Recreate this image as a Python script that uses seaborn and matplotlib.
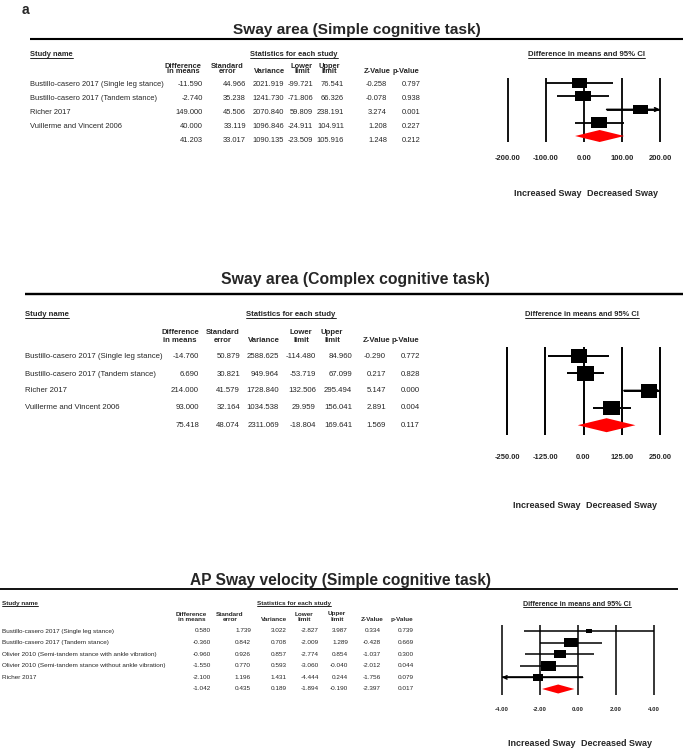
import numpy as np
import pandas as pd
import matplotlib
matplotlib.use("Agg")
import matplotlib.pyplot as plt
import seaborn as sns
from matplotlib.path import Path
from matplotlib.lines import Line2D

# ---------------- data ----------------
panel_letter = "a"
col_heads_1 = ["Difference", "Standard", "", "Lower", "Upper", "", ""]
col_heads_2 = ["in means", "error", "Variance", "limit", "limit", "Z-Value", "p-Value"]

p1_title = "Sway area (Simple cognitive task)"
p1_studies = ["Bustillo-casero 2017 (Single leg stance)", "Bustillo-casero 2017 (Tandem stance)",
              "Richer 2017", "Vuillerme and Vincent 2006", ""]
p1_diff = [-11.590, -2.740, 149.000, 40.000, 41.203]
p1_se = [44.966, 35.238, 45.506, 33.119, 33.017]
p1_var = [2021.919, 1241.730, 2070.840, 1096.846, 1090.135]
p1_lower = [-99.721, -71.806, 59.809, -24.911, -23.509]
p1_upper = [76.541, 66.326, 238.191, 104.911, 105.916]
p1_z = [-0.258, -0.078, 3.274, 1.208, 1.248]
p1_p = [0.797, 0.938, 0.001, 0.227, 0.212]
p1_ticks = [-200, -100, 0, 100, 200]

p2_title = "Sway area (Complex cognitive task)"
p2_studies = ["Bustillo-casero 2017 (Single leg stance)", "Bustillo-casero 2017 (Tandem stance)",
              "Richer 2017", "Vuillerme and Vincent 2006", ""]
p2_diff = [-14.760, 6.690, 214.000, 93.000, 75.418]
p2_se = [50.879, 30.821, 41.579, 32.164, 48.074]
p2_var = [2588.625, 949.964, 1728.840, 1034.538, 2311.069]
p2_lower = [-114.480, -53.719, 132.506, 29.959, -18.804]
p2_upper = [84.960, 67.099, 295.494, 156.041, 169.641]
p2_z = [-0.290, 0.217, 5.147, 2.891, 1.569]
p2_p = [0.772, 0.828, 0.000, 0.004, 0.117]
p2_ticks = [-250, -125, 0, 125, 250]

p3_title = "AP Sway velocity (Simple cognitive task)"
p3_studies = ["Bustillo-casero 2017 (Single leg stance)", "Bustillo-casero 2017 (Tandem stance)",
              "Olivier 2010 (Semi-tandem stance with ankle vibration)",
              "Olivier 2010 (Semi-tandem stance without ankle vibration)", "Richer 2017", ""]
p3_diff = [0.580, -0.360, -0.960, -1.550, -2.100, -1.042]
p3_se = [1.739, 0.842, 0.926, 0.770, 1.196, 0.435]
p3_var = [3.022, 0.708, 0.857, 0.593, 1.431, 0.189]
p3_lower = [-2.827, -2.009, -2.774, -3.060, -4.444, -1.894]
p3_upper = [3.987, 1.289, 0.854, -0.040, 0.244, -0.190]
p3_z = [0.334, -0.428, -1.037, -2.012, -1.756, -2.397]
p3_p = [0.739, 0.669, 0.300, 0.044, 0.079, 0.017]
p3_ticks = [-4, -2, 0, 2, 4]

# ---------------- layout (pixels) ----------------
W, H = 685, 748
layouts = [
    dict(title_x=357, title_y=30, title_fs=11.1, rule_y=39, rule_x0=30, rule_x1=683, rule_lw=1.5,
         hdr_y=54.5, study_x=30, stats_cx=294, ci_cx=586, ci_fs=5.6,
         ch_y1=66, ch_y2=71.5, ch_cx=[183, 227.5, 269.5, 302, 329.5, 377, 406],
         row0=84, rstep=14.2, val_rx=[203, 246, 284, 313, 344, 387, 421], fs=5.4,
         fx0=508, fx1=660, ftop=78, fbot=142, frow0=83, fstep=13.25,
         tick_y=159, tick_fs=5.5, lab_y=194, lab_fs=6.5, grid_lw=1.3, ci_lw=1.3,
         mk_w=16, mk_asp=1.5, dia_h=6),
    dict(title_x=355, title_y=280, title_fs=11.3, rule_y=294, rule_x0=25, rule_x1=683, rule_lw=1.7,
         hdr_y=315, study_x=25, stats_cx=291, ci_cx=582, ci_fs=5.4,
         ch_y1=332, ch_y2=340, ch_cx=[180, 223, 264, 301, 332, 377, 405],
         row0=357, rstep=17, val_rx=[199, 240, 279, 316, 352, 386, 420], fs=5.6,
         fx0=507, fx1=660, ftop=347, fbot=435, frow0=356, fstep=17.3,
         tick_y=458, tick_fs=5.4, lab_y=505, lab_fs=6.5, grid_lw=1.4, ci_lw=1.4,
         mk_w=17, mk_asp=1.15, dia_h=7),
    dict(title_x=340, title_y=581, title_fs=11.2, rule_y=589, rule_x0=0, rule_x1=678, rule_lw=1.3,
         hdr_y=604, study_x=2, stats_cx=294, ci_cx=577, ci_fs=5.1,
         ch_y1=614, ch_y2=619.5, ch_cx=[191.5, 230, 274, 304, 337, 372, 402],
         row0=631, rstep=11.6, val_rx=[211, 251, 287, 319, 348, 381, 414], fs=4.6,
         fx0=502, fx1=654, ftop=625, fbot=695, frow0=631, fstep=11.6,
         tick_y=710, tick_fs=4.4, lab_y=743, lab_fs=6.5, grid_lw=1.1, ci_lw=1.1,
         mk_w=15, mk_asp=1.5, dia_h=4.5),
]

panels = [
    dict(title=p1_title, studies=p1_studies, diff=p1_diff, se=p1_se, var=p1_var, lower=p1_lower,
         upper=p1_upper, z=p1_z, p=p1_p, ticks=p1_ticks),
    dict(title=p2_title, studies=p2_studies, diff=p2_diff, se=p2_se, var=p2_var, lower=p2_lower,
         upper=p2_upper, z=p2_z, p=p2_p, ticks=p2_ticks),
    dict(title=p3_title, studies=p3_studies, diff=p3_diff, se=p3_se, var=p3_var, lower=p3_lower,
         upper=p3_upper, z=p3_z, p=p3_p, ticks=p3_ticks),
]

sns.set_style("white")
plt.rcParams["font.family"] = ["Liberation Sans", "DejaVu Sans"]

fig = plt.figure(figsize=(W / 100, H / 100), dpi=100)
fig.patch.set_facecolor("white")


def T(x, y, s, **kw):
    kw.setdefault("va", "center")
    return fig.text(x / W, 1 - y / H, s, **kw)


def hline_fig(x0, x1, y, lw):
    fig.add_artist(Line2D([x0 / W, x1 / W], [1 - y / H] * 2, transform=fig.transFigure,
                          color="black", lw=lw, solid_capstyle="butt"))


underlined = []

T(22, 10, panel_letter, fontsize=10, fontweight="bold", ha="left")

for d, L in zip(panels, layouts):
    # title + rule
    T(L["title_x"], L["title_y"], d["title"], fontsize=L["title_fs"], fontweight="bold", ha="center")
    hline_fig(L["rule_x0"], L["rule_x1"], L["rule_y"], L["rule_lw"] * 0.72 * 1.4)

    # headers
    underlined.append(T(L["study_x"], L["hdr_y"], "Study name", fontsize=L["fs"], fontweight="bold", ha="left"))
    underlined.append(T(L["stats_cx"], L["hdr_y"], "Statistics for each study", fontsize=L["fs"],
                        fontweight="bold", ha="center"))
    underlined.append(T(L["ci_cx"], L["hdr_y"], "Difference in means and 95% CI", fontsize=L["ci_fs"],
                        fontweight="bold", ha="center"))
    for h1, h2, cx in zip(col_heads_1, col_heads_2, L["ch_cx"]):
        if h1:
            T(cx, L["ch_y1"], h1, fontsize=L["fs"], fontweight="bold", ha="center")
        T(cx, L["ch_y2"], h2, fontsize=L["fs"], fontweight="bold", ha="center")

    # table rows
    cols = [d["diff"], d["se"], d["var"], d["lower"], d["upper"], d["z"], d["p"]]
    for i, name in enumerate(d["studies"]):
        y = L["row0"] + i * L["rstep"]
        if name:
            T(L["study_x"], y, name, fontsize=L["fs"], ha="left")
        for col, rx in zip(cols, L["val_rx"]):
            T(rx, y, f"{col[i]:.3f}", fontsize=L["fs"], ha="right")

    # forest plot axes
    n = len(d["studies"])
    ytop = (L["ftop"] - L["frow0"]) / L["fstep"]
    ybot = (L["fbot"] - L["frow0"]) / L["fstep"]
    ax = fig.add_axes([L["fx0"] / W, 1 - L["fbot"] / H, (L["fx1"] - L["fx0"]) / W,
                       (L["fbot"] - L["ftop"]) / H])
    ticks = d["ticks"]
    ax.set_xlim(ticks[0], ticks[-1])
    ax.set_ylim(ybot, ytop)
    for s in ax.spines.values():
        s.set_visible(False)
    ax.set_yticks([])
    ax.set_xticks(ticks)
    ax.set_xticklabels([f"{t:.2f}" for t in ticks], fontsize=L["tick_fs"], fontweight="bold")
    pad = (L["tick_y"] - L["fbot"]) * 0.72 - 0.5 * L["tick_fs"]
    ax.tick_params(axis="x", length=0, pad=pad)
    ax.vlines(ticks, ybot, ytop, color="black", lw=L["grid_lw"], clip_on=False, zorder=1)

    rows = np.arange(n)
    lo = np.array(d["lower"][:-1])
    up = np.array(d["upper"][:-1])
    lo_c = np.clip(lo, ticks[0], ticks[-1])
    up_c = np.clip(up, ticks[0], ticks[-1])
    ax.hlines(rows[:-1], lo_c, up_c, color="black", lw=L["ci_lw"], zorder=2, clip_on=False)
    for r, a, b, ac, bc in zip(rows[:-1], lo, up, lo_c, up_c):
        if b > ticks[-1]:
            ax.annotate("", xy=(bc, r), xytext=(ac, r),
                        arrowprops=dict(arrowstyle="->", color="black", lw=L["ci_lw"],
                                        shrinkA=0, shrinkB=0, mutation_scale=6), annotation_clip=False)
        if a < ticks[0]:
            ax.annotate("", xy=(ac, r), xytext=(bc, r),
                        arrowprops=dict(arrowstyle="->", color="black", lw=L["ci_lw"],
                                        shrinkA=0, shrinkB=0, mutation_scale=6), annotation_clip=False)

    # weights (random effects, DerSimonian-Laird) -> marker size
    y_i = np.array(d["diff"][:-1])
    v_i = np.array(d["var"][:-1])
    w = 1 / v_i
    ybar = np.sum(w * y_i) / np.sum(w)
    Q = np.sum(w * (y_i - ybar) ** 2)
    C = np.sum(w) - np.sum(w ** 2) / np.sum(w)
    tau2 = max(0.0, (Q - (len(y_i) - 1)) / C)
    wr = 1 / (v_i + tau2)
    widths_px = L["mk_w"] * np.sqrt(wr / wr.max())
    sizes = (widths_px * 0.72) ** 2
    a = L["mk_asp"]
    rect = Path([(-a, -1), (a, -1), (a, 1), (-a, 1), (-a, -1)],
                [Path.MOVETO, Path.LINETO, Path.LINETO, Path.LINETO, Path.CLOSEPOLY])
    df = pd.DataFrame({"diff": y_i, "row": rows[:-1]})
    sns.scatterplot(data=df, x="diff", y="row", marker=rect, s=sizes, color="black",
                    edgecolor="none", linewidth=0, ax=ax, zorder=3, legend=False, clip_on=False)
    ax.set_xlabel("")
    ax.set_ylabel("")

    # summary diamond
    r = rows[-1]
    h = L["dia_h"] / L["fstep"]
    ax.fill([d["lower"][-1], d["diff"][-1], d["upper"][-1], d["diff"][-1]],
            [r, r - h, r, r + h], color="#ff0000", lw=0, zorder=3, clip_on=False)

    # direction labels
    zx = L["fx0"] + (0 - ticks[0]) / (ticks[-1] - ticks[0]) * (L["fx1"] - L["fx0"])
    T(zx - 3, L["lab_y"], "Increased Sway", fontsize=L["lab_fs"], fontweight="bold", ha="right")
    T(zx + 3, L["lab_y"], "Decreased Sway", fontsize=L["lab_fs"], fontweight="bold", ha="left")

# underlines
fig.canvas.draw()
renderer = fig.canvas.get_renderer()
for t in underlined:
    bb = t.get_window_extent(renderer)
    fig.add_artist(Line2D([bb.x0 / W, bb.x1 / W], [(bb.y0 + 0.5) / H] * 2, transform=fig.transFigure,
                          color="black", lw=0.6))

fig.savefig("out.png", dpi=100, facecolor="white")
